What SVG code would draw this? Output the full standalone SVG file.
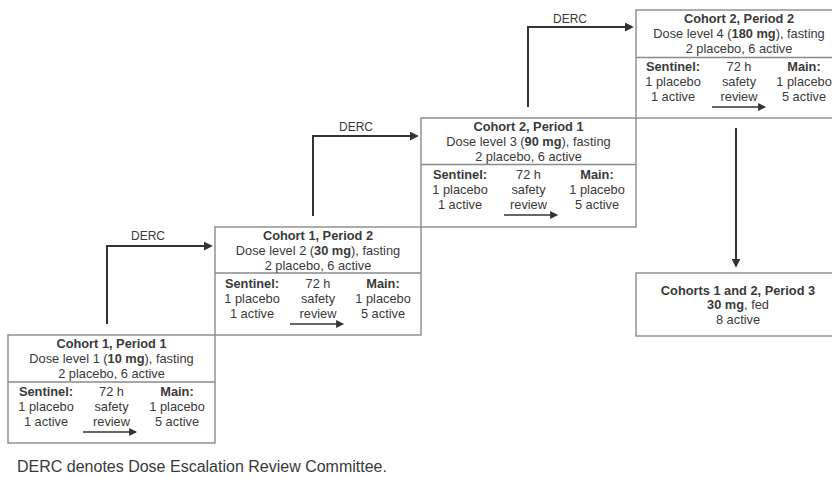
<svg xmlns="http://www.w3.org/2000/svg" width="832" height="477" viewBox="0 0 832 477">
<style>
.box{fill:#fff;stroke:#8a8a8a;stroke-width:1.4}
.div{stroke:#8a8a8a;stroke-width:1.4}
.t{font-family:"Liberation Sans",Arial,sans-serif;font-size:12.8px;fill:#3a3a3a;text-anchor:middle}
.b{font-weight:bold}
.lbl{font-family:"Liberation Sans",Arial,sans-serif;font-size:12px;fill:#3a3a3a;text-anchor:middle}
.conn{fill:none;stroke:#333;stroke-width:2;marker-end:url(#ah)}
.inar{fill:none;stroke:#333;stroke-width:1.6;marker-end:url(#ahs)}
.foot{font-family:"Liberation Sans",Arial,sans-serif;font-size:16px;fill:#3a3a3a}
</style>
<defs>
<marker id="ah" viewBox="0 0 10 10" markerUnits="userSpaceOnUse" markerWidth="9" markerHeight="9" refX="8" refY="5" orient="auto">
<path d="M0,0 L10,5 L0,10 z" fill="#333"/>
</marker>
<marker id="ahs" viewBox="0 0 10 10" markerUnits="userSpaceOnUse" markerWidth="9" markerHeight="8" refX="8" refY="5" orient="auto">
<path d="M0,0 L10,5 L0,10 z" fill="#333"/>
</marker>
</defs>
<rect width="832" height="477" fill="#fff"/>

<g id="connectors">
<path class="conn" d="M107,324 V246 H211"/>
<path class="conn" d="M313,216 V136 H417"/>
<path class="conn" d="M528,107 V27 H632"/>
<path class="conn" d="M736,128 V266"/>
<text class="lbl" x="148" y="240">DERC</text>
<text class="lbl" x="356" y="131">DERC</text>
<text class="lbl" x="570" y="23">DERC</text>
</g>

<g id="c1p1" transform="translate(8,335)">
<rect class="box" x="0" y="0" width="207" height="108"/>
<line class="div" x1="0" y1="47" x2="207" y2="47"/>
<text class="t b" x="103.5" y="12.5">Cohort 1, Period 1</text>
<text class="t" x="103.5" y="28">Dose level 1 (<tspan class="b">10 mg</tspan>), fasting</text>
<text class="t" x="103.5" y="43">2 placebo, 6 active</text>
<text class="t b" x="38" y="60.5">Sentinel:</text>
<text class="t" x="38" y="75.5">1 placebo</text>
<text class="t" x="38" y="90.5">1 active</text>
<text class="t" x="103.5" y="60.5">72 h</text>
<text class="t" x="103.5" y="75.5">safety</text>
<text class="t" x="103.5" y="90.5">review</text>
<text class="t b" x="169" y="60.5">Main:</text>
<text class="t" x="169" y="75.5">1 placebo</text>
<text class="t" x="169" y="90.5">5 active</text>
<path class="inar" d="M75,97 H127.5"/>
</g>

<g id="c1p2" transform="translate(215,227)">
<rect class="box" x="0" y="0" width="206" height="108"/>
<line class="div" x1="0" y1="46" x2="206" y2="46"/>
<text class="t b" x="103" y="12.5">Cohort 1, Period 2</text>
<text class="t" x="103" y="28">Dose level 2 (<tspan class="b">30 mg</tspan>), fasting</text>
<text class="t" x="103" y="43">2 placebo, 6 active</text>
<text class="t b" x="37" y="60.5">Sentinel:</text>
<text class="t" x="37" y="75.5">1 placebo</text>
<text class="t" x="37" y="90.5">1 active</text>
<text class="t" x="103" y="60.5">72 h</text>
<text class="t" x="103" y="75.5">safety</text>
<text class="t" x="103" y="90.5">review</text>
<text class="t b" x="168" y="60.5">Main:</text>
<text class="t" x="168" y="75.5">1 placebo</text>
<text class="t" x="168" y="90.5">5 active</text>
<path class="inar" d="M75,97 H127.5"/>
</g>

<g id="c2p1" transform="translate(421,118)">
<rect class="box" x="0" y="0" width="215" height="109"/>
<line class="div" x1="0" y1="46.5" x2="215" y2="46.5"/>
<text class="t b" x="107.5" y="12.5">Cohort 2, Period 1</text>
<text class="t" x="107.5" y="28">Dose level 3 (<tspan class="b">90 mg</tspan>), fasting</text>
<text class="t" x="107.5" y="43">2 placebo, 6 active</text>
<text class="t b" x="39" y="60.5">Sentinel:</text>
<text class="t" x="39" y="75.5">1 placebo</text>
<text class="t" x="39" y="90.5">1 active</text>
<text class="t" x="107.5" y="60.5">72 h</text>
<text class="t" x="107.5" y="75.5">safety</text>
<text class="t" x="107.5" y="90.5">review</text>
<text class="t b" x="176" y="60.5">Main:</text>
<text class="t" x="176" y="75.5">1 placebo</text>
<text class="t" x="176" y="90.5">5 active</text>
<path class="inar" d="M83,97 H135.5"/>
</g>

<g id="c2p2" transform="translate(636,10)">
<rect class="box" x="0" y="0" width="207" height="108"/>
<line class="div" x1="0" y1="47.5" x2="207" y2="47.5"/>
<text class="t b" x="103" y="12.5">Cohort 2, Period 2</text>
<text class="t" x="103" y="28">Dose level 4 (<tspan class="b">180 mg</tspan>), fasting</text>
<text class="t" x="103" y="43">2 placebo, 6 active</text>
<text class="t b" x="37" y="60.5">Sentinel:</text>
<text class="t" x="37" y="75.5">1 placebo</text>
<text class="t" x="37" y="90.5">1 active</text>
<text class="t" x="103" y="60.5">72 h</text>
<text class="t" x="103" y="75.5">safety</text>
<text class="t" x="103" y="90.5">review</text>
<text class="t b" x="168" y="60.5">Main:</text>
<text class="t" x="168" y="75.5">1 placebo</text>
<text class="t" x="168" y="90.5">5 active</text>
<path class="inar" d="M76,97 H128.5"/>
</g>

<g id="c12p3" transform="translate(636,273)">
<rect class="box" x="0" y="0" width="207" height="63"/>
<text class="t b" x="102" y="21.5">Cohorts 1 and 2, Period 3</text>
<text class="t" x="102" y="36"><tspan class="b">30 mg</tspan>, fed</text>
<text class="t" x="102" y="50.5">8 active</text>
</g>

<text class="foot" x="17" y="472">DERC denotes Dose Escalation Review Committee.</text>
</svg>
